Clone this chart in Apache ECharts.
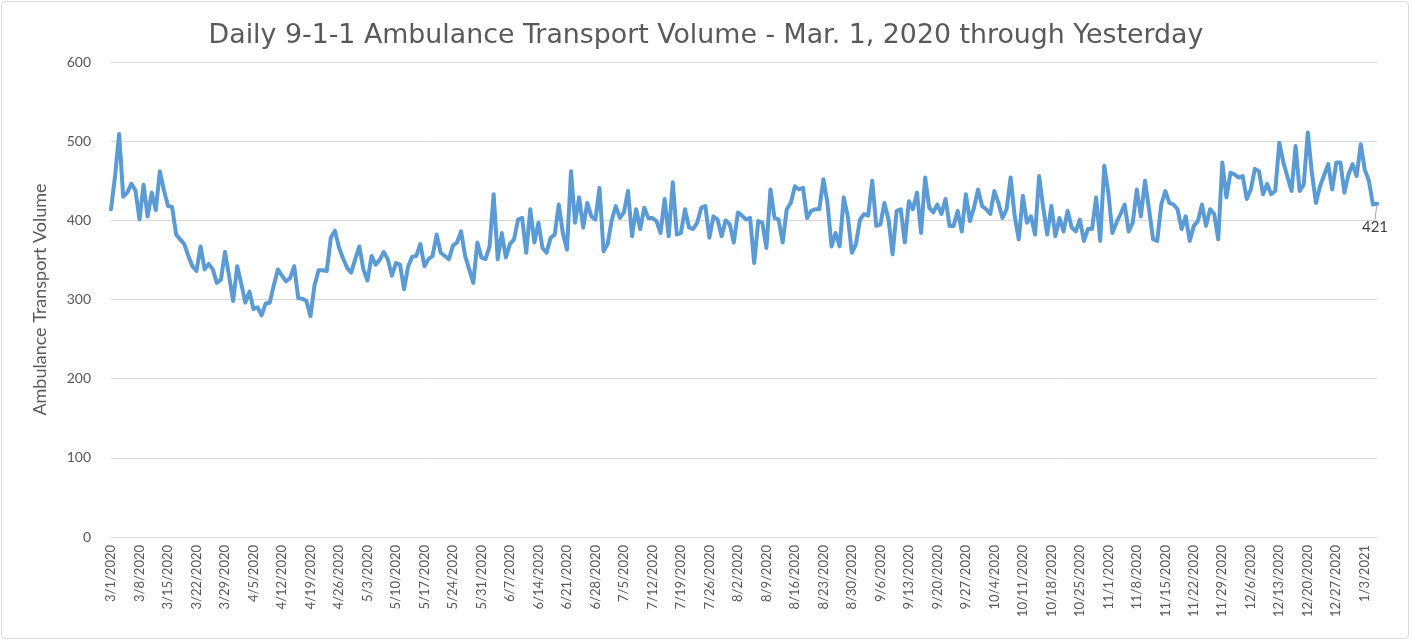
<!DOCTYPE html>
<html>
<head>
<meta charset="utf-8">
<script src="https://cdn.jsdelivr.net/npm/echarts@6/dist/echarts.min.js"></script>
<style>
  html, body { margin: 0; padding: 0; background: #ffffff; }
  #wrap { position: absolute; left: 1px; top: 1px; width: 1408px; height: 638px; border: 1px solid #d9d9d9; border-radius: 4px; box-sizing: border-box; }
  #chart { width: 1412px; height: 642px; position: absolute; left: 0; top: 0; }
</style>
</head>
<body>
<div id="wrap"></div>
<div id="chart"></div>
<script>
// ---- Data ----
const titleText = "Daily 9-1-1 Ambulance Transport Volume - Mar. 1, 2020 through Yesterday";
const yAxisName = "Ambulance Transport Volume";
const startDate = [2020, 3, 1]; // first category: 3/1/2020
const dayCount = 312;           // 3/1/2020 ... 1/6/2021
const yTicks = [0, 100, 200, 300, 400, 500, 600];

const volumes = [
  414, 456, 509, 430, 435, 446, 438, 401, 445, 405, 435, 413, 462, 438, 418, 417, 382, 376, 370, 355,
  342, 336, 367, 338, 345, 338, 321, 325, 360, 330, 298, 342, 320, 296, 310, 288, 290, 280, 295, 296,
  318, 338, 330, 323, 327, 342, 302, 301, 298, 279, 318, 337, 337, 336, 378, 387, 366, 352, 340, 334,
  351, 367, 338, 324, 355, 344, 350, 360, 351, 330, 346, 344, 313, 342, 354, 355, 370, 342, 351, 355,
  382, 359, 355, 351, 368, 372, 386, 355, 338, 321, 372, 353, 351, 367, 433, 351, 384, 353, 370, 376,
  401, 403, 359, 414, 372, 397, 365, 359, 378, 382, 420, 384, 363, 462, 397, 429, 391, 422, 405, 401,
  441, 361, 370, 400, 418, 403, 410, 437, 380, 414, 389, 416, 403, 403, 399, 384, 427, 380, 448, 382,
  384, 414, 391, 389, 397, 416, 418, 378, 405, 401, 380, 400, 395, 372, 410, 406, 401, 403, 346, 399,
  397, 365, 439, 403, 401, 372, 414, 422, 443, 439, 441, 403, 412, 414, 414, 452, 422, 367, 384, 367,
  429, 405, 359, 370, 401, 408, 406, 450, 393, 395, 422, 401, 357, 412, 414, 372, 424, 414, 435, 384,
  454, 416, 410, 420, 408, 427, 393, 393, 412, 386, 433, 399, 416, 439, 418, 414, 408, 437, 422, 403,
  414, 454, 405, 376, 431, 397, 405, 382, 456, 416, 382, 418, 380, 403, 386, 412, 391, 386, 401, 374,
  389, 389, 429, 374, 469, 435, 384, 397, 408, 420, 386, 397, 439, 405, 450, 414, 376, 374, 420, 437,
  422, 420, 414, 389, 405, 374, 393, 399, 420, 393, 414, 408, 376, 473, 429, 460, 458, 454, 456, 427,
  439, 465, 462, 433, 446, 433, 437, 498, 473, 455, 437, 494, 437, 445, 511, 460, 422, 443, 457, 471,
  439, 473, 473, 435, 458, 471, 456, 496, 464, 450, 420, 421
];

// category labels (calendar dates)
const categories = [];
for (let i = 0; i < dayCount; i++) {
  const d = new Date(Date.UTC(startDate[0], startDate[1] - 1, startDate[2] + i));
  categories.push((d.getUTCMonth() + 1) + "/" + d.getUTCDate() + "/" + d.getUTCFullYear());
}

const font = "Lato, 'Liberation Sans', sans-serif";
const textColor = "#595959";
const lineColor = "#5b9bd5";
const lastIdx = volumes.length - 1;

const chart = echarts.init(document.getElementById('chart'), null, { renderer: 'canvas' });
chart.setOption({
  animation: false,
  backgroundColor: 'transparent',
  title: {
    text: titleText,
    left: 'center',
    top: 18,
    textStyle: { fontFamily: "'DejaVu Sans', sans-serif", fontSize: 26.8, fontWeight: 'normal', color: textColor }
  },
  grid: { left: 111, right: 35, top: 62, bottom: 105, containLabel: false },
  xAxis: {
    type: 'category',
    data: categories,
    boundaryGap: false,
    axisLine: { show: true, lineStyle: { color: '#d9d9d9', width: 1 } },
    axisTick: { show: false },
    axisLabel: {
      interval: 6,
      rotate: 90,
      margin: 8,
      fontFamily: font,
      fontSize: 13,
      color: textColor
    },
    splitLine: { show: false }
  },
  yAxis: {
    type: 'value',
    min: yTicks[0],
    max: yTicks[yTicks.length - 1],
    interval: 100,
    name: yAxisName,
    nameLocation: 'middle',
    nameGap: 62,
    nameRotate: 90,
    nameTextStyle: { fontFamily: font, fontSize: 18, color: textColor },
    axisLine: { show: false },
    axisTick: { show: false },
    axisLabel: { fontFamily: font, fontSize: 14, color: textColor, margin: 20 },
    splitLine: { lineStyle: { color: '#d9d9d9', width: 1 } }
  },
  series: [{
    type: 'line',
    data: volumes.map((v, i) => i === lastIdx ? {
      value: v,
      symbol: 'circle',
      symbolSize: 2,
      label: { show: true, position: 'bottom', distance: 3, formatter: '{c}', fontFamily: font, fontSize: 15, color: '#404040' }
    } : { value: v, symbol: 'none' }),
    showSymbol: true,
    showAllSymbol: true,
    symbol: 'none',
    smooth: false,
    labelLayout: { dy: 12, dx: -2 },
    labelLine: { show: true, lineStyle: { color: '#a6a6a6', width: 1 } },
    lineStyle: { color: lineColor, width: 4, join: 'round', cap: 'round' },
    itemStyle: { color: lineColor }
  }]
});
</script>
</body>
</html>
